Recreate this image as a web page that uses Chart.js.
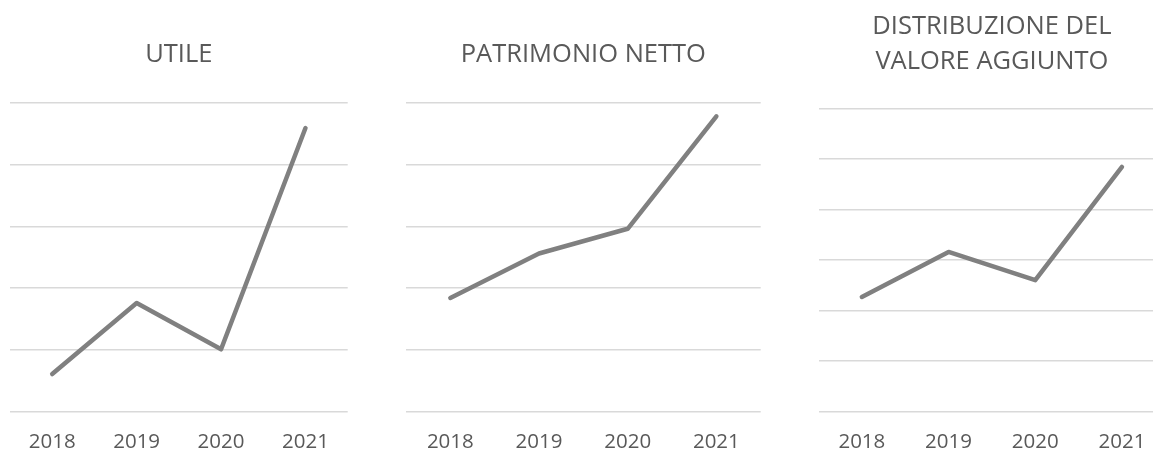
<!DOCTYPE html>
<html>
<head>
<meta charset="utf-8">
<script src="https://cdn.jsdelivr.net/npm/chart.js@4"></script>
<style>
  html, body { margin: 0; padding: 0; background: #fff; overflow: hidden; }
  #pagina { width: 1153px; height: 452px; position: relative; overflow: hidden; }
  canvas { position: absolute; top: 0; }
</style>
</head>
<body>
<div id="pagina">
  <canvas id="cUtile" width="360" height="480" style="left:0px"></canvas>
  <canvas id="cPatrimonio" width="390" height="480" style="left:390px"></canvas>
  <canvas id="cValore" width="400" height="480" style="left:780px"></canvas>
</div>
<script>
// anni sull'asse x
var anni = ["2018", "2019", "2020", "2021"];

// valori delle tre serie (scala senza etichette)
var utile = [0.61, 1.76, 1.01, 4.59];
var patrimonioNetto = [1.84, 2.56, 2.96, 4.78];
var valoreAggiunto = [2.27, 3.16, 2.60, 4.84];

var grigioTesto = "#595959";
var grigioLinea = "#808080";
var grigioGriglia = "#d9d9d9";

function disegnaLinea(id, titolo, valori, maxY, pad, titoloPad, lineHeight) {
  return new Chart(document.getElementById(id), {
    type: "line",
    data: {
      labels: anni,
      datasets: [{
        data: valori,
        borderColor: grigioLinea,
        borderWidth: 4.5,
        borderCapStyle: "round",
        borderJoinStyle: "round",
        pointRadius: 0,
        fill: false,
        tension: 0
      }]
    },
    options: {
      responsive: false,
      animation: false,
      devicePixelRatio: 1,
      layout: { padding: pad },
      plugins: {
        legend: { display: false },
        tooltip: { enabled: false },
        title: {
          display: true,
          text: titolo,
          color: grigioTesto,
          font: { family: "'Open Sans', sans-serif", size: 25.5, weight: "normal", lineHeight: lineHeight },
          padding: titoloPad
        }
      },
      scales: {
        x: {
          offset: true,
          grid: { display: false, drawTicks: false },
          border: { display: false },
          ticks: {
            color: grigioTesto,
            padding: 18,
            maxRotation: 0,
            font: { family: "'Open Sans', sans-serif", size: 20.5, lineHeight: 1.2 }
          }
        },
        y: {
          min: 0,
          max: maxY,
          ticks: { display: false, stepSize: 1 },
          border: { display: false },
          grid: { color: grigioGriglia, lineWidth: 1.5, drawTicks: false }
        }
      }
    }
  });
}

disegnaLinea("cUtile", "UTILE", utile, 5,
  { left: 10, right: 12.3, top: 0, bottom: 7.7 },
  { top: 39, bottom: 33.1 }, 1.2);

disegnaLinea("cPatrimonio", "PATRIMONIO NETTO", patrimonioNetto, 5,
  { left: 16, right: 19.3, top: 0, bottom: 7.7 },
  { top: 39, bottom: 33.1 }, 1.2);

disegnaLinea("cValore", ["DISTRIBUZIONE DEL", "VALORE AGGIUNTO"], valoreAggiunto, 6,
  { left: 38.5, right: 14.7, top: 0, bottom: 7.7 },
  { top: 8.5, bottom: 28.4 }, 1.4);
</script>
</body>
</html>
